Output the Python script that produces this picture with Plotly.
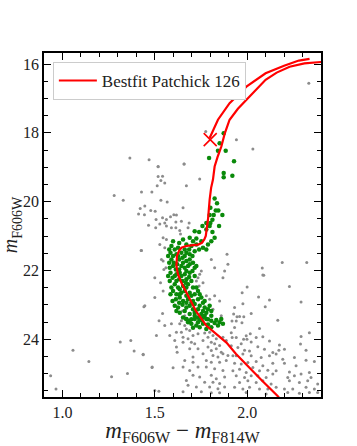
import plotly.graph_objects as go

# isochrone (main sequence -> RGB), then the upper branch
iso_x = [2.18, 2.165, 2.08, 2.00, 1.94, 1.888, 1.83, 1.78, 1.725, 1.689, 1.66, 1.644, 1.625, 1.617,
         1.62, 1.632, 1.644, 1.67, 1.698, 1.735, 1.755, 1.768, 1.776, 1.782, 1.788, 1.797, 1.805,
         1.815, 1.824, 1.84, 1.86, 1.88, 1.905, 1.95, 1.996, 2.05, 2.10, 2.16, 2.23, 2.31, 2.39, 2.45,
         None,
         2.338, 2.28, 2.20, 2.10, 1.996, 1.905, 1.842, 1.806, 1.797]
iso_y = [25.75, 25.65, 25.2, 24.77, 24.43, 24.10, 23.85, 23.61, 23.2, 22.84, 22.55, 22.36, 22.1, 21.87,
         21.58, 21.42, 21.34, 21.29, 21.27, 21.25, 21.2, 21.1, 21.0, 20.8, 20.52, 19.94, 19.6,
         19.36, 18.98, 18.7, 18.40, 18.0, 17.62, 17.3, 17.04, 16.75, 16.46, 16.25, 16.08, 15.98, 15.93, 15.92,
         None,
         15.85, 15.9, 16.05, 16.27, 16.66, 17.14, 17.62, 18.06, 18.15]

# HB point
hb_x = [1.80]
hb_y = [18.20]

# all stars (grey)
gray_x = [1.776, 1.942, 2.031, 2.334, 1.365, 1.469, 1.518, 1.658,
          1.518, 1.659, 1.518, 1.542, 1.533, 1.554, 1.513, 1.671, 1.743, 1.428, 1.484, 1.533, 1.567,
          1.446, 1.653, 1.478, 1.502, 1.444, 1.603, 1.585, 1.617, 1.507, 1.542, 1.563, 1.527, 1.554,
          1.614, 1.644, 1.466, 1.505, 1.563, 1.590, 1.614, 1.635, 1.686, 1.680, 1.639,
          1.28, 1.329, 1.421, 1.412, 1.426,
          1.441, 1.313, 1.37, 1.388, 1.437, 1.057, 1.143, 0.936, 1.266, 1.352, 0.965, 1.485,
          2.190, 2.323, 2.082, 2.09,
          1.545, 1.563, 1.527, 1.554,
          1.734, 1.743, 1.725, 1.752, 1.740, 1.761, 1.779, 1.797, 1.824, 1.851, 1.815, 1.869, 1.824,
          1.878, 1.896, 1.891, 1.806, 1.86, 1.65, 1.662,
          1.428, 1.536, 1.545, 1.560, 1.549, 1.5, 1.531, 1.545, 1.5, 1.446, 1.542,
          1.523, 1.554, 1.590, 1.635, 1.644, 1.662, 1.671, 1.617, 1.644, 1.689, 1.509, 1.581, 1.608,
          1.653, 1.680, 1.707, 1.734, 1.770, 1.797, 1.815, 1.788, 1.833, 1.869, 1.653, 1.698, 1.716,
          1.761, 1.806, 1.824, 1.851, 1.887, 1.617, 1.689, 1.734, 1.788, 1.806, 1.833, 1.860, 1.621,
          1.761, 1.815, 1.842, 1.869, 1.896, 1.437, 1.707, 1.662, 1.707, 1.779, 1.806, 1.851, 1.887,
          1.486, 1.599, 1.653, 1.689, 1.734, 1.779, 1.824, 1.869, 1.707, 1.743, 1.806, 1.833, 1.878,
          1.671, 1.770, 1.815, 1.851, 1.680, 1.725, 1.797, 1.842, 1.878, 1.500, 1.522, 1.653, 1.752,
          1.806, 1.851,
          2.085, 2.000, 2.229, 1.973, 2.062, 2.121, 1.977, 2.098, 2.292, 1.932, 1.927, 1.945, 1.959,
          1.982, 2.022, 1.918, 1.941, 1.972, 2.166, 1.932, 1.914, 1.995, 2.017, 2.067, 1.919, 1.941,
          1.981, 1.999, 1.968, 2.022, 2.049, 2.085, 2.121, 2.175, 2.292, 2.337, 2.289, 1.914, 1.950,
          1.986, 2.013, 2.058, 2.094, 2.139, 2.172, 2.202, 2.319, 1.923, 1.941, 1.977, 2.022, 2.076,
          2.121, 2.157, 2.193, 2.256, 2.319, 1.932, 1.968, 2.004, 2.049, 2.085, 2.139, 2.202, 2.265,
          2.364, 1.923, 1.959, 1.995, 2.031, 2.067, 2.112, 2.157, 2.229, 2.292, 2.337, 1.941, 1.986,
          2.022, 2.058, 2.103, 2.139, 2.220, 2.256, 2.346, 1.959, 2.004, 2.049, 2.085, 2.130, 2.229,
          2.283, 2.328, 2.382, 1.932, 1.977, 2.013, 2.067, 2.112, 2.157, 2.202, 2.247, 2.319, 2.364,
          1.995, 2.103, 2.220, 2.283, 2.337, 2.382]
gray_y = [17.96, 18.20, 18.47, 16.56, 18.73, 18.78, 18.98, 18.91,
          18.985, 18.91, 19.27, 19.26, 19.39, 19.46, 19.54, 19.54, 19.34, 19.72, 19.72, 19.96, 20.01,
          20.13, 20.18, 20.26, 20.28, 20.38, 20.38, 20.44, 20.39, 20.52, 20.47, 20.52, 20.65, 20.62,
          20.59, 20.57, 20.69, 20.76, 20.71, 20.76, 20.76, 20.84, 20.62, 20.76, 20.94,
          19.82, 19.96, 20.2, 20.36, 21.42,
          23.06, 24.08, 24.04, 24.34, 24.45, 24.32, 24.65, 25.06, 25.09, 25.0, 25.45, 24.82,
          21.77, 21.77, 21.93, 22.14,
          21.05, 21.10, 21.25, 21.34,
          22.21, 22.11, 22.31, 22.02, 22.45, 22.36, 22.74, 22.84, 22.74, 22.89, 23.13, 22.21, 21.92,
          22.02, 21.82, 21.53, 21.68, 23.32, 23.18, 23.32,
          21.42, 21.68, 21.73, 21.92, 21.97, 22.21, 22.36, 22.60, 22.79, 23.03, 23.25,
          23.46, 23.60, 23.55, 23.55, 23.46, 23.60, 23.70, 23.80, 23.80, 23.75, 23.89, 23.89, 24.04,
          23.94, 23.99, 23.89, 23.84, 23.82, 23.80, 23.89, 23.94, 23.99, 23.94, 24.09, 24.09, 24.13,
          24.04, 24.09, 24.13, 24.18, 24.04, 24.23, 24.28, 24.28, 24.23, 24.33, 24.28, 24.38, 24.38,
          24.42, 24.47, 24.52, 24.42, 24.47, 24.44, 24.52, 24.62, 24.67, 24.62, 24.67, 24.67, 24.62,
          24.81, 24.83, 24.81, 24.91, 24.81, 24.81, 24.86, 24.91, 25.05, 25.10, 25.05, 25.15, 25.10,
          25.20, 25.25, 25.25, 25.29, 25.34, 25.39, 25.39, 25.44, 25.39, 25.49, 25.51, 25.53, 25.53,
          25.56, 25.56,
          22.13, 22.48, 22.47, 22.65, 22.77, 22.86, 22.97, 23.06, 22.92, 23.08, 23.27, 23.35, 23.34,
          23.35, 23.25, 23.47, 23.47, 23.52, 23.45, 23.66, 23.81, 23.90, 23.84, 23.69, 23.95, 23.95,
          24.00, 24.00, 24.13, 24.08, 23.95, 23.93, 24.05, 24.17, 23.92, 23.81, 24.14, 24.19, 24.24,
          24.32, 24.34, 24.22, 24.29, 24.39, 24.32, 24.29, 24.32, 24.48, 24.48, 24.43, 24.48, 24.53,
          24.48, 24.43, 24.58, 24.53, 24.61, 24.70, 24.72, 24.68, 24.65, 24.77, 24.70, 24.70, 24.77,
          24.65, 24.92, 24.87, 24.97, 24.82, 24.92, 24.90, 24.92, 24.95, 25.01, 24.97, 25.06, 25.11,
          25.06, 25.06, 25.11, 25.01, 25.11, 25.06, 25.11, 25.26, 25.21, 25.26, 25.21, 25.30, 25.21,
          25.26, 25.21, 25.30, 25.40, 25.45, 25.40, 25.45, 25.45, 25.40, 25.45, 25.45, 25.40, 25.45,
          25.55, 25.59, 25.55, 25.57, 25.55, 25.55]

# member stars (green)
green_x = [1.873, 1.851, 1.842, 1.884, 1.794, 1.929, 1.873, 1.92, 1.873,
           1.824, 1.837, 1.801, 1.830, 1.844, 1.797, 1.819, 1.866, 1.812, 1.779, 1.801, 1.848, 1.758,
           1.716, 1.740, 1.779, 1.812, 1.797,
           1.599, 1.653, 1.689, 1.707, 1.725, 1.752, 1.788, 1.806, 1.824, 1.590, 1.608, 1.671, 1.698,
           1.725, 1.761, 1.585, 1.599, 1.617, 1.644, 1.671, 1.689, 1.716, 1.590, 1.603, 1.632, 1.650,
           1.671, 1.689, 1.707, 1.599, 1.614, 1.644, 1.662, 1.680, 1.725, 1.585, 1.617, 1.635, 1.662,
           1.689, 1.596, 1.632, 1.650, 1.671, 1.608, 1.626, 1.653, 1.680, 1.707, 1.599, 1.617, 1.644,
           1.662, 1.689, 1.716, 1.734, 1.614, 1.635, 1.653, 1.680, 1.707, 1.734, 1.752, 1.770, 1.608,
           1.626, 1.650, 1.689, 1.716, 1.743, 1.770, 1.797, 1.635, 1.662, 1.689, 1.716, 1.752, 1.779,
           1.806, 1.653, 1.698, 1.734, 1.761, 1.788,
           1.578, 1.626, 1.632, 1.662, 1.686, 1.740, 1.779, 1.572, 1.626, 1.662, 1.704, 1.578, 1.621,
           1.653, 1.689, 1.716, 1.581, 1.632, 1.671, 1.704, 1.572, 1.608, 1.644, 1.686, 1.716, 1.581,
           1.617, 1.668, 1.698, 1.590, 1.635, 1.671, 1.725, 1.585, 1.635, 1.671, 1.698, 1.743, 1.596,
           1.632, 1.671, 1.698, 1.761, 1.617, 1.671, 1.707, 1.734, 1.761, 1.788, 1.671, 1.716, 1.743,
           1.770, 1.806,
           1.671, 1.689, 1.716, 1.734, 1.752, 1.779, 1.806, 1.833, 1.860, 1.698, 1.725, 1.761, 1.788,
           1.824, 1.851, 1.743, 1.779, 1.806, 1.842, 1.869, 1.680, 1.707]
green_y = [18.01, 18.30, 18.52, 18.52, 18.73, 18.83, 19.17, 19.25, 19.29,
           19.91, 20.05, 20.18, 20.26, 20.26, 20.39, 20.39, 20.39, 20.53, 20.62, 20.62, 20.71, 20.71,
           20.86, 20.88, 20.81, 20.88, 20.71,
           21.15, 21.10, 21.05, 21.15, 21.07, 21.15, 21.25, 21.15, 21.05, 21.29, 21.39, 21.25, 21.29,
           21.25, 21.34, 21.49, 21.58, 21.53, 21.49, 21.49, 21.53, 21.44, 21.68, 21.78, 21.68, 21.63,
           21.73, 21.68, 21.78, 21.87, 21.97, 21.87, 21.92, 21.87, 21.87, 22.07, 22.11, 22.07, 22.11,
           22.07, 22.21, 22.26, 22.31, 22.26, 22.40, 22.50, 22.45, 22.40, 22.50, 22.60, 22.69, 22.65,
           22.60, 22.65, 22.69, 22.60, 22.84, 22.79, 22.89, 22.84, 22.89, 22.84, 22.79, 22.89, 23.03,
           23.08, 23.00, 23.03, 22.98, 23.03, 23.08, 23.03, 23.23, 23.18, 23.27, 23.23, 23.27, 23.23,
           23.18, 23.37, 23.42, 23.37, 23.37, 23.42,
           21.39, 21.34, 21.20, 21.39, 21.39, 21.39, 21.39, 21.58, 21.58, 21.58, 21.58, 21.78, 21.82,
           21.78, 21.82, 21.92, 21.92, 21.97, 22.02, 22.02, 22.16, 22.16, 22.16, 22.19, 22.16, 22.31,
           22.31, 22.36, 22.31, 22.50, 22.55, 22.50, 22.50, 22.69, 22.69, 22.74, 22.74, 22.69, 22.89,
           22.94, 22.94, 22.94, 22.94, 23.18, 23.08, 23.13, 23.13, 23.18, 23.13, 23.42, 23.32, 23.42,
           23.32, 23.32,
           23.41, 23.46, 23.41, 23.51, 23.44, 23.41, 23.46, 23.44, 23.41, 23.55, 23.60, 23.55, 23.57,
           23.53, 23.51, 23.65, 23.70, 23.65, 23.60, 23.55, 23.51, 23.67]

serif = "Liberation Serif"

fig = go.Figure()
fig.add_trace(go.Scatter(x=gray_x, y=gray_y, mode='markers', showlegend=False,
                         marker=dict(color='#8c8c8c', size=3)))
fig.add_trace(go.Scatter(x=green_x, y=green_y, mode='markers', showlegend=False,
                         marker=dict(color='#0a8a0a', size=4.5)))
fig.add_trace(go.Scatter(x=iso_x, y=iso_y, mode='lines', name='Bestfit Patchick 126',
                         line=dict(color='red', width=2.2), connectgaps=False))
fig.add_trace(go.Scatter(x=hb_x, y=hb_y, mode='markers', showlegend=False,
                         marker=dict(symbol='x-thin', size=13, line=dict(color='red', width=1.6))))

axis_style = dict(showline=True, mirror='ticks', linecolor='black', linewidth=1.5,
                  ticks='inside', ticklen=7, tickwidth=1.3, tickcolor='black',
                  showgrid=False, zeroline=False,
                  tickfont=dict(family=serif, size=16, color='#222'))

fig.update_xaxes(range=[0.9, 2.4], tick0=1.0, dtick=0.5, tickformat='.1f',
                 minor=dict(ticks='inside', ticklen=4, tickwidth=1, tickcolor='black', dtick=0.1),
                 title=dict(text='<i>m</i><sub>F606W</sub> − <i>m</i><sub>F814W</sub>',
                            font=dict(family=serif, size=23, color='#222'), standoff=10),
                 **axis_style)
fig.update_yaxes(range=[25.68, 15.68], tick0=16, dtick=2,
                 minor=dict(ticks='inside', ticklen=4, tickwidth=1, tickcolor='black', dtick=0.5),
                 **axis_style)

# y title as a rotated annotation so it sits clear of the tick labels
fig.add_annotation(text='<i>m</i><sub>F606W</sub>', textangle=-90, showarrow=False,
                   xref='paper', yref='paper', x=-0.118, y=0.5, xanchor='center', yanchor='middle',
                   font=dict(family=serif, size=20, color='#222'))

fig.update_layout(width=357, height=446, margin=dict(l=44, r=36, t=53, b=49, autoexpand=False),
                  plot_bgcolor='white', paper_bgcolor='white',
                  legend=dict(x=0.032, y=0.974, xanchor='left', yanchor='top', itemwidth=38,
                              bgcolor='white', bordercolor='#cccccc', borderwidth=1,
                              font=dict(family=serif, size=17, color='#222')))

# drop the page's default 8px body margin so the figure sits at the corner
fig.write_html("out.html", config={'displayModeBar': False},
               post_script="document.body.style.margin = '0';")
